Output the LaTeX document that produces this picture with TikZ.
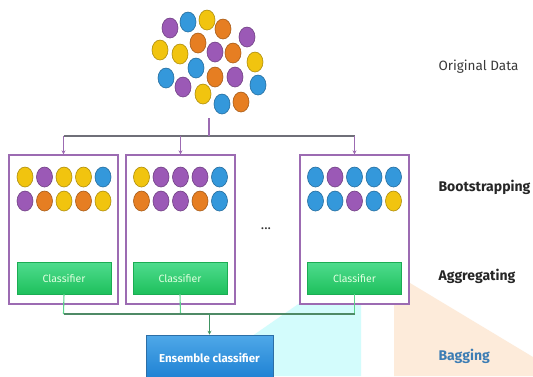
\documentclass[tikz,border=0pt]{standalone}
\usepackage{fontspec}
\setmainfont{Fira Sans}
\usetikzlibrary{arrows.meta,shapes.geometric}

\definecolor{ballP}{HTML}{9B59B6}
\definecolor{ballB}{HTML}{3498DB}
\definecolor{ballY}{HTML}{F1C40F}
\definecolor{ballO}{HTML}{E67E22}
\definecolor{frame}{HTML}{9C6BB2}
\definecolor{busgray}{HTML}{6F6F78}
\definecolor{greenTop}{HTML}{4FDC8E}
\definecolor{greenBot}{HTML}{1EC05C}
\definecolor{greenbus}{HTML}{4F8A66}
\definecolor{greenlink}{HTML}{5CD38C}
\definecolor{blueTop}{HTML}{4FA8E8}
\definecolor{blueBot}{HTML}{1B7FD2}
\definecolor{blueEdge}{HTML}{2C6EA6}
\definecolor{cyanzone}{HTML}{D3FCFC}
\definecolor{peachzone}{HTML}{FDEBDA}
\definecolor{labelgray}{HTML}{3A3A3A}
\definecolor{bagblue}{HTML}{3D7DB4}

\tikzset{
  ball/.style={ellipse, minimum width=16pt, minimum height=20pt, inner sep=0pt,
               line width=0.6pt, fill=#1, draw=#1!72!black},
  sample/.style={rectangle, draw=frame, line width=1.3pt, fill=white,
                 minimum width=109pt, minimum height=149pt, inner sep=0pt},
  classbox/.style={rectangle, minimum width=94pt, minimum height=32pt, inner sep=0pt,
                   top color=greenTop, bottom color=greenBot, draw=greenBot!90!black, line width=0.3pt,
                   text=white!88!green, font=\fontsize{10.5}{12}\selectfont},
  ensbox/.style={rectangle, minimum width=127pt, minimum height=46pt, inner sep=0pt,
                 top color=blueTop, bottom color=blueBot, draw=blueEdge, line width=0.6pt,
                 text=white, font=\bfseries\fontsize{11.5}{13}\selectfont},
  stage/.style={anchor=west, font=\bfseries\fontsize{14}{16}\selectfont, text=black!85},
  fan/.style={draw=frame, line width=1.1pt},
  fanarrow/.style={fan, -{Stealth[length=4pt,width=4pt]}},
  bus/.style={draw=busgray, line width=1.3pt},
  vote/.style={draw=greenlink, line width=1.1pt},
  votebus/.style={draw=greenbus, line width=1.3pt},
}

\begin{document}
\begin{tikzpicture}[x=1pt,y=-1pt]
\useasboundingbox (0,0) rectangle (533,376);
\clip (0,0) rectangle (533,376);
\fill[white] (0,0) rectangle (533,376);

% shaded zones behind the lower half
\fill[cyanzone] (245,341) -- (330,282) -- (361,282) -- (361,376) -- (245,376) -- cycle;
\fill[peachzone] (394,280) -- (405,280) -- (533,357) -- (533,376) -- (394,376) -- cycle;

% original data: a loose cloud of coloured samples
\foreach \x/\y/\c [count=\i] in {
  170/28/ballP, 188/22/ballB, 207/20/ballY, 223/29/ballO, 247/37/ballP,
  160/50/ballY, 180/54/ballY, 198/43/ballO, 215/52/ballP, 233/53/ballO,
  255/62/ballY, 166/78/ballB, 196/68/ballB, 215/77/ballO, 235/77/ballP,
  258/85/ballB, 183/87/ballP, 203/94/ballY, 222/104/ballB, 241/102/ballO}
  \node[ball=\c] (d\i) at (\x,\y) {};

% bootstrap sample frames
\node[sample] (s1) at (63.5,229.5) {};
\node[sample] (s2) at (180.5,229.5) {};
\node[sample] (s3) at (354.5,229.5) {};

% samples drawn into each frame
\foreach \c [count=\i] in {ballY,ballP,ballY,ballY,ballB}
  \node[ball=\c] (s1a\i) at ({25+(\i-1)*19.5},177) {};
\foreach \c [count=\i] in {ballP,ballO,ballY,ballO,ballY}
  \node[ball=\c] (s1b\i) at ({25+(\i-1)*19.5},201) {};
\foreach \c [count=\i] in {ballY,ballP,ballP,ballP,ballB}
  \node[ball=\c] (s2a\i) at ({141.5+(\i-1)*19.5},177) {};
\foreach \c [count=\i] in {ballO,ballP,ballP,ballO,ballB}
  \node[ball=\c] (s2b\i) at ({141.5+(\i-1)*19.5},201) {};
\foreach \c [count=\i] in {ballB,ballP,ballB,ballB,ballB}
  \node[ball=\c] (s3a\i) at ({315.5+(\i-1)*19.5},177) {};
\foreach \c [count=\i] in {ballB,ballB,ballP,ballB,ballY}
  \node[ball=\c] (s3b\i) at ({315.5+(\i-1)*19.5},201) {};

% classifiers
\node[classbox] (c1) at (64,278) {Classifier};
\node[classbox] (c2) at (180,278) {Classifier};
\node[classbox] (c3) at (354.5,278) {Classifier};

% ensemble output
\node[ensbox] (ens) at (209.5,358) {Ensemble classifier};

% ellipsis between frames
\node[font=\fontsize{14}{16}\selectfont, text=black!80] (more) at (266,229) {...};

% fan-out from the data to the frames
\coordinate (split) at (209,136);
\coordinate (top) at (209,118);
\coordinate (t1) at (63.5,136);
\coordinate (t2) at (180.5,136);
\coordinate (t3) at (354.5,136);
\draw[bus] (t1) -- (t3);
\draw[fan] (top) -- (split);
\draw[fanarrow] (t1) -- (s1.north);
\draw[fanarrow] (t2) -- (s2.north);
\draw[fanarrow] (t3) -- (s3.north);

% votes gathered into the ensemble
\coordinate (v1) at (63.5,314);
\coordinate (v2) at (180.5,314);
\coordinate (v3) at (354.5,314);
\coordinate (join) at (209.5,314);
\draw[vote] (c1.south) -- (v1);
\draw[vote] (c2.south) -- (v2);
\draw[vote] (c3.south) -- (v3);
\draw[votebus] (v1) -- (v3);
\draw[votebus, draw=greenlink!70!black, -{Stealth[length=4pt,width=4pt]}] (join) -- (ens.north);

% stage labels
\node[anchor=west, font=\fontsize{13.5}{15}\selectfont, text=labelgray] (lbl0) at (435,67) {Original Data};
\node[stage] (lbl1) at (435,187) {Bootstrapping};
\node[stage] (lbl2) at (435,276) {Aggregating};
\node[stage, text=bagblue] (lbl3) at (435,356) {Bagging};
\end{tikzpicture}
\end{document}
